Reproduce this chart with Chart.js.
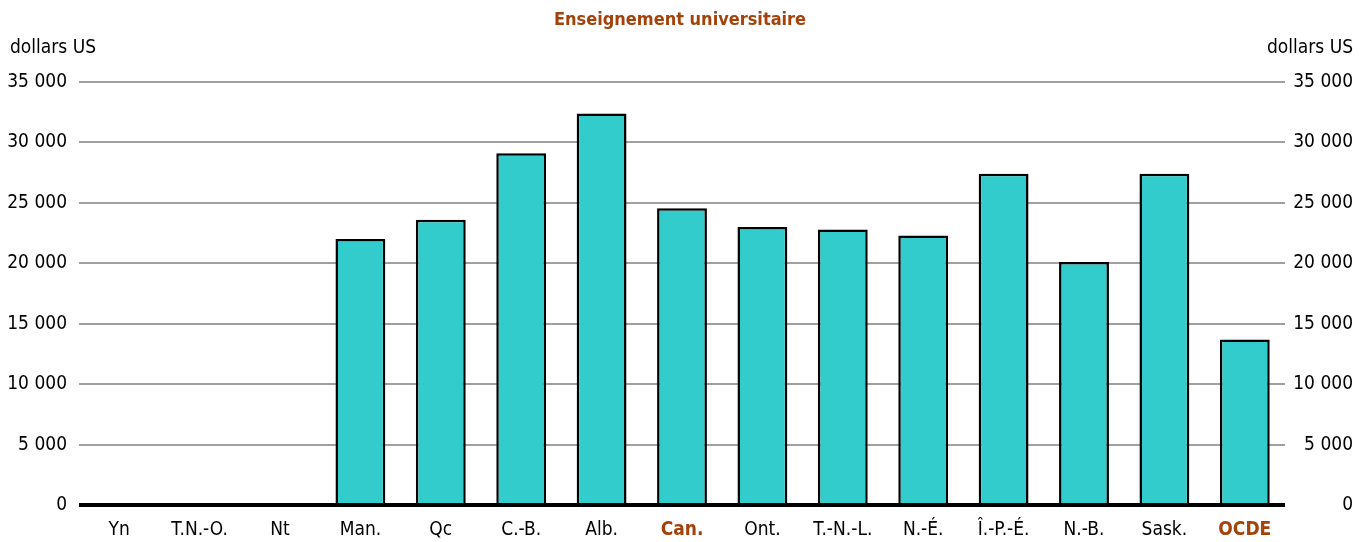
<!DOCTYPE html>
<html lang="fr">
<head>
<meta charset="utf-8">
<title>Enseignement universitaire</title>
<script src="https://cdn.jsdelivr.net/npm/chart.js@4"></script>
<style>
  html, body { margin: 0; padding: 0; background: #fff; }
  #wrap { width: 1370px; height: 542px; }
</style>
</head>
<body>
<div id="wrap"><canvas id="chart" width="1370" height="542"></canvas></div>
<script>
'use strict';

// ── Data ─────────────────────────────────────────────────────
const categories = ['Yn', 'T.N.-O.', 'Nt', 'Man.', 'Qc', 'C.-B.', 'Alb.', 'Can.',
  'Ont.', 'T.-N.-L.', 'N.-É.', 'Î.-P.-É.', 'N.-B.', 'Sask.', 'OCDE'];
const spending = [null, null, null, 22000, 23600, 29100, 32400, 24550,
  23000, 22800, 22300, 27400, 20100, 27400, 13700];
const highlighted = ['Can.', 'OCDE'];
const yTicks = [0, 5000, 10000, 15000, 20000, 25000, 30000, 35000];

const FONT = '"Liberation Sans Narrow", "DejaVu Sans Condensed", "Arial Narrow", sans-serif';
const BROWN = '#A3420B';

const fmt = v => String(v).replace(/\B(?=(\d{3})+(?!\d))/g, ' ');

// ── Title + unit labels ──────────────────────────────────────
const labelsPlugin = {
  id: 'labels',
  afterDraw(chart) {
    const { ctx, chartArea } = chart;
    ctx.save();
    ctx.textBaseline = 'middle';
    ctx.fillStyle = BROWN;
    ctx.font = 'bold 18px ' + FONT;
    ctx.textAlign = 'center';
    ctx.fillText('Enseignement universitaire', (chartArea.left + chartArea.right) / 2 - 2, 20);
    ctx.fillStyle = '#000';
    ctx.font = '19px ' + FONT;
    ctx.textAlign = 'left';
    ctx.fillText('dollars US', 10, 48);
    ctx.textAlign = 'right';
    ctx.fillText('dollars US', 1353, 48);
    ctx.restore();
  }
};

const tickFont = { family: FONT, size: 19 };

new Chart(document.getElementById('chart'), {
  type: 'bar',
  data: {
    labels: categories,
    datasets: [{
      data: spending,
      backgroundColor: '#33CCCC',
      borderColor: '#000',
      borderWidth: 2.5,
      borderSkipped: 'bottom',
      barPercentage: 0.62,
      categoryPercentage: 1
    }]
  },
  options: {
    responsive: false,
    animation: false,
    layout: { padding: { top: 82, right: 17, left: 0, bottom: 0 } },
    plugins: { legend: { display: false }, tooltip: { enabled: false }, title: { display: false } },
    scales: {
      x: {
        grid: { display: false },
        border: { display: false },
        afterFit: s => { s.height = 37; },
        ticks: {
          padding: 6,
          autoSkip: false,
          maxRotation: 0,
          color: c => highlighted.includes(categories[c.index]) ? BROWN : '#000',
          font: c => highlighted.includes(categories[c.index])
            ? { family: FONT, size: 19, weight: 'bold' }
            : tickFont
        }
      },
      y: {
        position: 'left',
        min: 0, max: 35000,
        afterFit: s => { s.width = 79; },
        afterBuildTicks: s => { s.ticks = yTicks.map(v => ({ value: v })); },
        border: { display: false },
        grid: {
          drawTicks: false,
          color: c => c.tick.value === 0 ? '#000' : '#A0A0A0',
          lineWidth: c => c.tick.value === 0 ? 4 : 2
        },
        ticks: { padding: 12, color: '#000', font: tickFont, callback: v => fmt(v) }
      },
      y2: {
        position: 'right',
        min: 0, max: 35000,
        afterFit: s => { s.width = 68; },
        afterBuildTicks: s => { s.ticks = yTicks.map(v => ({ value: v })); },
        border: { display: false },
        grid: { display: false, drawTicks: false },
        ticks: { padding: 10, crossAlign: 'far', color: '#000', font: tickFont, callback: v => fmt(v) }
      }
    }
  },
  plugins: [labelsPlugin]
});
</script>
</body>
</html>
